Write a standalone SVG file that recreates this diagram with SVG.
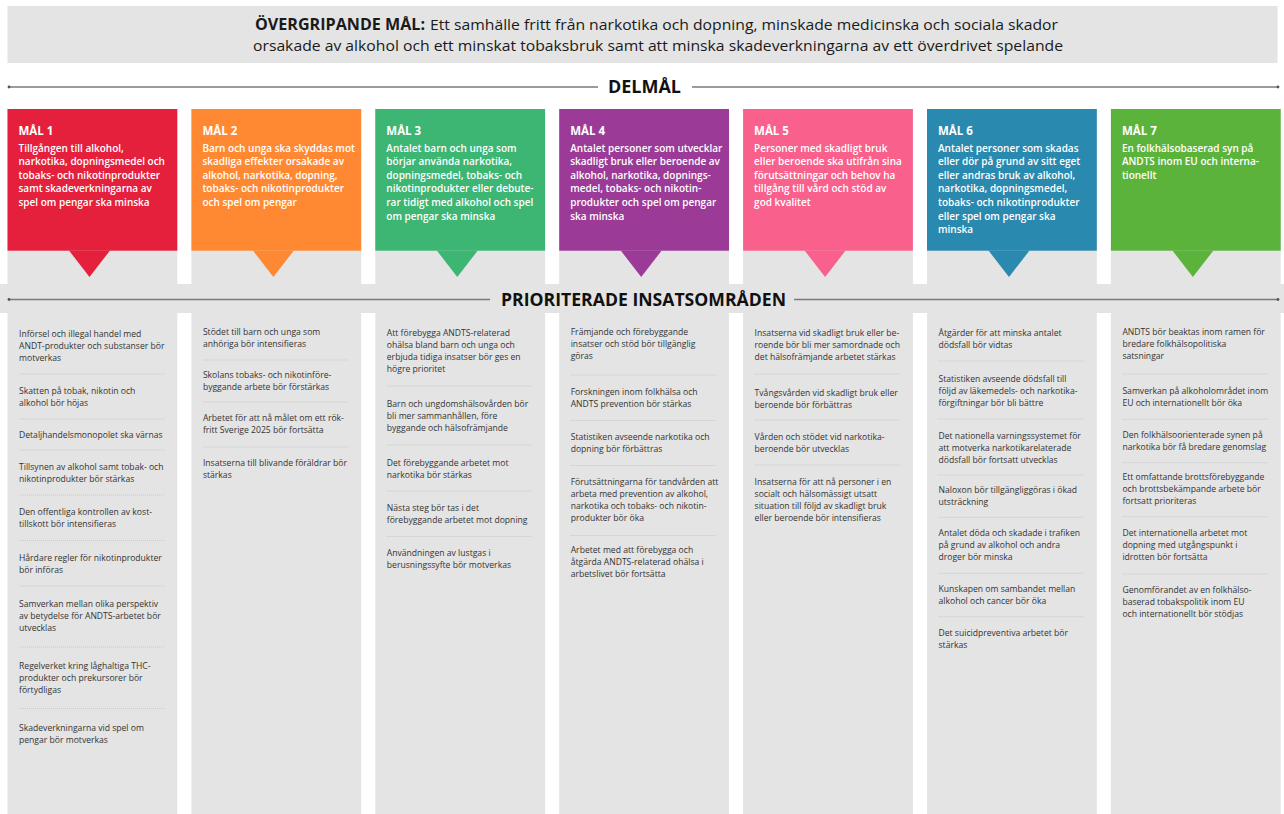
<svg xmlns="http://www.w3.org/2000/svg" width="1284" height="814" viewBox="0 0 1284 814">
  <style>
    .bg { fill: #e4e4e4; }
    .hdr { font-family: "Open Sans", "Liberation Sans", sans-serif; font-size: 15.2px; fill: #1a1a1a; }
    .hb { font-weight: 700; }
    .sec { font-family: "Open Sans", "Liberation Sans", sans-serif; font-size: 17px; font-weight: 700; fill: #111; }
    .gt { font-family: "Open Sans", "Liberation Sans", sans-serif; font-size: 11.5px; font-weight: 700; fill: #fff; }
    .g { font-family: "Open Sans", "Liberation Sans", sans-serif; font-size: 10px; font-weight: 600; fill: #fff; }
    .t { font-family: "Open Sans", "Liberation Sans", sans-serif; font-size: 8.6px; fill: #333; }
    .sep { stroke: #b4b4b4; stroke-width: 0.8; stroke-dasharray: 0.7 1.3; }
    .rule { stroke: #7a7a7a; stroke-width: 1.4; }
    .dot { fill: #555; }
  </style>

  <rect width="1284" height="814" fill="#fff"/>

  <!-- overall goal banner -->
  <g id="overall-goal">
    <rect class="bg" x="7.5" y="6" width="1270" height="57" fill="#e6e6e6"/>
    <text class="hdr" x="255" y="29.5"><tspan class="hb" textLength="170" lengthAdjust="spacingAndGlyphs">ÖVERGRIPANDE MÅL:</tspan><tspan x="430" textLength="628" lengthAdjust="spacingAndGlyphs">Ett samhälle fritt från narkotika och dopning, minskade medicinska och sociala skador</tspan><tspan x="253" dy="21" textLength="810" lengthAdjust="spacingAndGlyphs">orsakade av alkohol och ett minskat tobaksbruk samt att minska skadeverkningarna av ett överdrivet spelande</tspan></text>
  </g>

  <!-- full-width band behind the second section heading -->
  <rect class="bg" x="0" y="284" width="1284" height="29"/>

  <!-- section rules -->
  <g id="connectors">
    <line class="rule" x1="9" y1="87" x2="598" y2="87"/>
    <line class="rule" x1="692" y1="87" x2="1278" y2="87"/>
    <circle class="dot" cx="9" cy="87" r="1.4"/>
    <circle class="dot" cx="1278" cy="87" r="1.4"/>
    <line class="rule" x1="9" y1="299.5" x2="490" y2="299.5"/>
    <line class="rule" x1="794" y1="299.5" x2="1278" y2="299.5"/>
    <circle class="dot" cx="9" cy="299.5" r="1.4"/>
    <circle class="dot" cx="1278" cy="299.5" r="1.4"/>
  </g>

  <g id="heading-delmal">
    <text class="sec" x="608" y="93" textLength="73" lengthAdjust="spacingAndGlyphs">DELMÅL</text>
  </g>
  <g id="heading-prioriterade">
    <text class="sec" x="501" y="305.5" textLength="285" lengthAdjust="spacingAndGlyphs">PRIORITERADE INSATSOMRÅDEN</text>
  </g>

  <!-- goal cards -->
  <g id="goal-1">
    <rect class="bg" x="7.5" y="109" width="169.8" height="175"/>
    <rect x="7.5" y="109" width="169.8" height="141.7" fill="#e4203c"/>
    <polygon points="69,250.5 110,250.5 89.5,277" fill="#e4203c"/>
    <text class="gt" x="18.5" y="135">MÅL 1</text>
    <text class="g" x="18.5" y="151.5">Tillgången till alkohol,<tspan x="18.5" dy="13.6">narkotika, dopningsmedel och</tspan><tspan x="18.5" dy="13.6">tobaks- och nikotinprodukter</tspan><tspan x="18.5" dy="13.6">samt skadeverkningarna av</tspan><tspan x="18.5" dy="13.6">spel om pengar ska minska</tspan></text>
  </g>

  <g id="goal-2">
    <rect class="bg" x="191.4" y="109" width="169.8" height="175"/>
    <rect x="191.4" y="109" width="169.8" height="141.7" fill="#ff8933"/>
    <polygon points="252.9,250.5 293.9,250.5 273.4,277" fill="#ff8933"/>
    <text class="gt" x="202.4" y="135">MÅL 2</text>
    <text class="g" x="202.4" y="151.5">Barn och unga ska skyddas mot<tspan x="202.4" dy="13.6">skadliga effekter orsakade av</tspan><tspan x="202.4" dy="13.6">alkohol, narkotika, dopning,</tspan><tspan x="202.4" dy="13.6">tobaks- och nikotinprodukter</tspan><tspan x="202.4" dy="13.6">och spel om pengar</tspan></text>
  </g>

  <g id="goal-3">
    <rect class="bg" x="375.3" y="109" width="169.8" height="175"/>
    <rect x="375.3" y="109" width="169.8" height="141.7" fill="#3db573"/>
    <polygon points="436.8,250.5 477.8,250.5 457.3,277" fill="#3db573"/>
    <text class="gt" x="386.3" y="135">MÅL 3</text>
    <text class="g" x="386.3" y="151.5">Antalet barn och unga som<tspan x="386.3" dy="13.6">börjar använda narkotika,</tspan><tspan x="386.3" dy="13.6">dopningsmedel, tobaks- och</tspan><tspan x="386.3" dy="13.6">nikotinprodukter eller debute-</tspan><tspan x="386.3" dy="13.6">rar tidigt med alkohol och spel</tspan><tspan x="386.3" dy="13.6">om pengar ska minska</tspan></text>
  </g>

  <g id="goal-4">
    <rect class="bg" x="559.2" y="109" width="169.8" height="175"/>
    <rect x="559.2" y="109" width="169.8" height="141.7" fill="#9b3b97"/>
    <polygon points="620.7,250.5 661.7,250.5 641.2,277" fill="#9b3b97"/>
    <text class="gt" x="570.2" y="135">MÅL 4</text>
    <text class="g" x="570.2" y="151.5">Antalet personer som utvecklar<tspan x="570.2" dy="13.6">skadligt bruk eller beroende av</tspan><tspan x="570.2" dy="13.6">alkohol, narkotika, dopnings-</tspan><tspan x="570.2" dy="13.6">medel, tobaks- och nikotin-</tspan><tspan x="570.2" dy="13.6">produkter och spel om pengar</tspan><tspan x="570.2" dy="13.6">ska minska</tspan></text>
  </g>

  <g id="goal-5">
    <rect class="bg" x="743.1" y="109" width="169.8" height="175"/>
    <rect x="743.1" y="109" width="169.8" height="141.7" fill="#f9608b"/>
    <polygon points="804.6,250.5 845.6,250.5 825.1,277" fill="#f9608b"/>
    <text class="gt" x="754.1" y="135">MÅL 5</text>
    <text class="g" x="754.1" y="151.5">Personer med skadligt bruk<tspan x="754.1" dy="13.6">eller beroende ska utifrån sina</tspan><tspan x="754.1" dy="13.6">förutsättningar och behov ha</tspan><tspan x="754.1" dy="13.6">tillgång till vård och stöd av</tspan><tspan x="754.1" dy="13.6">god kvalitet</tspan></text>
  </g>

  <g id="goal-6">
    <rect class="bg" x="927" y="109" width="169.8" height="175"/>
    <rect x="927" y="109" width="169.8" height="141.7" fill="#2a89af"/>
    <polygon points="988.5,250.5 1029.5,250.5 1009,277" fill="#2a89af"/>
    <text class="gt" x="938" y="135">MÅL 6</text>
    <text class="g" x="938" y="151.5">Antalet personer som skadas<tspan x="938" dy="13.6">eller dör på grund av sitt eget</tspan><tspan x="938" dy="13.6">eller andras bruk av alkohol,</tspan><tspan x="938" dy="13.6">narkotika, dopningsmedel,</tspan><tspan x="938" dy="13.6">tobaks- och nikotinprodukter</tspan><tspan x="938" dy="13.6">eller spel om pengar ska</tspan><tspan x="938" dy="13.6">minska</tspan></text>
  </g>

  <g id="goal-7">
    <rect class="bg" x="1110.9" y="109" width="169.8" height="175"/>
    <rect x="1110.9" y="109" width="169.8" height="141.7" fill="#5cb33c"/>
    <polygon points="1172.4,250.5 1213.4,250.5 1192.9,277" fill="#5cb33c"/>
    <text class="gt" x="1121.9" y="135">MÅL 7</text>
    <text class="g" x="1121.9" y="151.5">En folkhälsobaserad syn på<tspan x="1121.9" dy="13.6">ANDTS inom EU och interna-</tspan><tspan x="1121.9" dy="13.6">tionellt</tspan></text>
  </g>

  <!-- priority areas, one column per goal -->
  <g id="areas-1">
    <rect class="bg" x="7.5" y="312.7" width="169.8" height="502"/>
    <text class="t" x="19" y="336.5">Införsel och illegal handel med<tspan x="19" dy="12">ANDT-produkter och substanser bör</tspan><tspan x="19" dy="12">motverkas</tspan></text>
    <line class="sep" x1="19" y1="374" x2="165" y2="374"/>
    <text class="t" x="19" y="393.5">Skatten på tobak, nikotin och<tspan x="19" dy="12">alkohol bör höjas</tspan></text>
    <line class="sep" x1="19" y1="419" x2="165" y2="419"/>
    <text class="t" x="19" y="437.5">Detaljhandelsmonopolet ska värnas</text>
    <line class="sep" x1="19" y1="450" x2="165" y2="450"/>
    <text class="t" x="19" y="470">Tillsynen av alkohol samt tobak- och<tspan x="19" dy="12">nikotinprodukter bör stärkas</tspan></text>
    <line class="sep" x1="19" y1="495" x2="165" y2="495"/>
    <text class="t" x="19" y="514.5">Den offentliga kontrollen av kost-<tspan x="19" dy="12">tillskott bör intensifieras</tspan></text>
    <line class="sep" x1="19" y1="540.5" x2="165" y2="540.5"/>
    <text class="t" x="19" y="560.5">Hårdare regler för nikotinprodukter<tspan x="19" dy="12">bör införas</tspan></text>
    <line class="sep" x1="19" y1="586" x2="165" y2="586"/>
    <text class="t" x="19" y="607">Samverkan mellan olika perspektiv<tspan x="19" dy="12.2">av betydelse för ANDTS-arbetet bör</tspan><tspan x="19" dy="12.2">utvecklas</tspan></text>
    <line class="sep" x1="19" y1="647" x2="165" y2="647"/>
    <text class="t" x="19" y="668.5">Regelverket kring låghaltiga THC-<tspan x="19" dy="12.3">produkter och prekursorer bör</tspan><tspan x="19" dy="12.3">förtydligas</tspan></text>
    <line class="sep" x1="19" y1="708.5" x2="165" y2="708.5"/>
    <text class="t" x="19" y="731">Skadeverkningarna vid spel om<tspan x="19" dy="12.3">pengar bör motverkas</tspan></text>
  </g>

  <g id="areas-2">
    <rect class="bg" x="191.4" y="312.7" width="169.8" height="502"/>
    <text class="t" x="202.9" y="335">Stödet till barn och unga som<tspan x="202.9" dy="12">anhöriga bör intensifieras</tspan></text>
    <line class="sep" x1="202.9" y1="360" x2="348.9" y2="360"/>
    <text class="t" x="202.9" y="378">Skolans tobaks- och nikotinföre-<tspan x="202.9" dy="12">byggande arbete bör förstärkas</tspan></text>
    <line class="sep" x1="202.9" y1="402" x2="348.9" y2="402"/>
    <text class="t" x="202.9" y="421">Arbetet för att nå målet om ett rök-<tspan x="202.9" dy="12">fritt Sverige 2025 bör fortsätta</tspan></text>
    <line class="sep" x1="202.9" y1="447" x2="348.9" y2="447"/>
    <text class="t" x="202.9" y="466">Insatserna till blivande föräldrar bör<tspan x="202.9" dy="12">stärkas</tspan></text>
  </g>

  <g id="areas-3">
    <rect class="bg" x="375.3" y="312.7" width="169.8" height="502"/>
    <text class="t" x="386.8" y="335.5">Att förebygga ANDTS-relaterad<tspan x="386.8" dy="12">ohälsa bland barn och unga och</tspan><tspan x="386.8" dy="12">erbjuda tidiga insatser bör ges en</tspan><tspan x="386.8" dy="12">högre prioritet</tspan></text>
    <line class="sep" x1="386.8" y1="386" x2="532.8" y2="386"/>
    <text class="t" x="386.8" y="407">Barn  och ungdomshälsovården bör<tspan x="386.8" dy="12">bli mer sammanhållen, före</tspan><tspan x="386.8" dy="12">byggande och hälsofrämjande</tspan></text>
    <line class="sep" x1="386.8" y1="445" x2="532.8" y2="445"/>
    <text class="t" x="386.8" y="465.5">Det förebyggande arbetet mot<tspan x="386.8" dy="12">narkotika bör stärkas</tspan></text>
    <line class="sep" x1="386.8" y1="491" x2="532.8" y2="491"/>
    <text class="t" x="386.8" y="510.5">Nästa steg bör tas i det<tspan x="386.8" dy="12">förebyggande arbetet mot dopning</tspan></text>
    <line class="sep" x1="386.8" y1="536.5" x2="532.8" y2="536.5"/>
    <text class="t" x="386.8" y="555.5">Användningen av lustgas i<tspan x="386.8" dy="12">berusningssyfte bör motverkas</tspan></text>
  </g>

  <g id="areas-4">
    <rect class="bg" x="559.2" y="312.7" width="169.8" height="502"/>
    <text class="t" x="570.7" y="335">Främjande och förebyggande<tspan x="570.7" dy="12">insatser och stöd bör tillgänglig</tspan><tspan x="570.7" dy="12">göras</tspan></text>
    <line class="sep" x1="570.7" y1="375" x2="716.7" y2="375"/>
    <text class="t" x="570.7" y="395">Forskningen inom folkhälsa och<tspan x="570.7" dy="12">ANDTS  prevention bör stärkas</tspan></text>
    <line class="sep" x1="570.7" y1="420.5" x2="716.7" y2="420.5"/>
    <text class="t" x="570.7" y="440">Statistiken avseende narkotika och<tspan x="570.7" dy="12">dopning bör förbättras</tspan></text>
    <line class="sep" x1="570.7" y1="465.5" x2="716.7" y2="465.5"/>
    <text class="t" x="570.7" y="485">Förutsättningarna för tandvården att<tspan x="570.7" dy="12">arbeta med prevention av alkohol,</tspan><tspan x="570.7" dy="12">narkotika och tobaks- och nikotin-</tspan><tspan x="570.7" dy="12">produkter bör öka</tspan></text>
    <line class="sep" x1="570.7" y1="535.5" x2="716.7" y2="535.5"/>
    <text class="t" x="570.7" y="553">Arbetet med att förebygga och<tspan x="570.7" dy="12">åtgärda ANDTS-relaterad ohälsa i</tspan><tspan x="570.7" dy="12">arbetslivet bör fortsätta</tspan></text>
  </g>

  <g id="areas-5">
    <rect class="bg" x="743.1" y="312.7" width="169.8" height="502"/>
    <text class="t" x="754.6" y="336">Insatserna vid skadligt bruk eller be-<tspan x="754.6" dy="12">roende bör bli mer samordnade och</tspan><tspan x="754.6" dy="12">det hälsofrämjande arbetet stärkas</tspan></text>
    <line class="sep" x1="754.6" y1="374" x2="900.6" y2="374"/>
    <text class="t" x="754.6" y="395.5">Tvångsvården vid skadligt bruk eller<tspan x="754.6" dy="12">beroende bör förbättras</tspan></text>
    <line class="sep" x1="754.6" y1="420" x2="900.6" y2="420"/>
    <text class="t" x="754.6" y="440">Vården och stödet vid narkotika-<tspan x="754.6" dy="12">beroende bör utvecklas</tspan></text>
    <line class="sep" x1="754.6" y1="465" x2="900.6" y2="465"/>
    <text class="t" x="754.6" y="484.5">Insatserna för att nå personer i en<tspan x="754.6" dy="12">socialt och hälsomässigt utsatt</tspan><tspan x="754.6" dy="12">situation till följd av skadligt bruk</tspan><tspan x="754.6" dy="12">eller beroende bör intensifieras</tspan></text>
  </g>

  <g id="areas-6">
    <rect class="bg" x="927" y="312.7" width="169.8" height="502"/>
    <text class="t" x="938.5" y="335.5">Åtgärder för att minska antalet<tspan x="938.5" dy="12">dödsfall bör vidtas</tspan></text>
    <line class="sep" x1="938.5" y1="361" x2="1084.5" y2="361"/>
    <text class="t" x="938.5" y="382">Statistiken avseende dödsfall till<tspan x="938.5" dy="12">följd av läkemedels- och narkotika-</tspan><tspan x="938.5" dy="12">förgiftningar bör bli bättre</tspan></text>
    <line class="sep" x1="938.5" y1="419" x2="1084.5" y2="419"/>
    <text class="t" x="938.5" y="438.5">Det nationella varningssystemet för<tspan x="938.5" dy="12">att motverka narkotikarelaterade</tspan><tspan x="938.5" dy="12">dödsfall bör fortsatt utvecklas</tspan></text>
    <line class="sep" x1="938.5" y1="475" x2="1084.5" y2="475"/>
    <text class="t" x="938.5" y="493">Naloxon bör tillgängliggöras i ökad<tspan x="938.5" dy="12">utsträckning</tspan></text>
    <line class="sep" x1="938.5" y1="517.3" x2="1084.5" y2="517.3"/>
    <text class="t" x="938.5" y="536">Antalet döda och skadade i trafiken<tspan x="938.5" dy="12">på grund av alkohol och andra</tspan><tspan x="938.5" dy="12">droger bör minska</tspan></text>
    <line class="sep" x1="938.5" y1="573.3" x2="1084.5" y2="573.3"/>
    <text class="t" x="938.5" y="592">Kunskapen om sambandet mellan<tspan x="938.5" dy="12">alkohol och cancer bör öka</tspan></text>
    <line class="sep" x1="938.5" y1="616.7" x2="1084.5" y2="616.7"/>
    <text class="t" x="938.5" y="636">Det suicidpreventiva arbetet bör<tspan x="938.5" dy="12">stärkas</tspan></text>
  </g>

  <g id="areas-7">
    <rect class="bg" x="1110.9" y="312.7" width="169.8" height="502"/>
    <text class="t" x="1122.4" y="335">ANDTS bör beaktas inom ramen för<tspan x="1122.4" dy="12">bredare folkhälsopolitiska</tspan><tspan x="1122.4" dy="12">satsningar</tspan></text>
    <line class="sep" x1="1122.4" y1="374" x2="1268.4" y2="374"/>
    <text class="t" x="1122.4" y="394">Samverkan på alkoholområdet inom<tspan x="1122.4" dy="12">EU och internationellt bör öka</tspan></text>
    <line class="sep" x1="1122.4" y1="419.3" x2="1268.4" y2="419.3"/>
    <text class="t" x="1122.4" y="438">Den folkhälsoorienterade synen på<tspan x="1122.4" dy="12">narkotika bör få bredare genomslag</tspan></text>
    <line class="sep" x1="1122.4" y1="462.7" x2="1268.4" y2="462.7"/>
    <text class="t" x="1122.4" y="480">Ett omfattande brottsförebyggande<tspan x="1122.4" dy="12">och brottsbekämpande arbete bör</tspan><tspan x="1122.4" dy="12">fortsatt prioriteras</tspan></text>
    <line class="sep" x1="1122.4" y1="516.7" x2="1268.4" y2="516.7"/>
    <text class="t" x="1122.4" y="536">Det internationella arbetet mot<tspan x="1122.4" dy="12">dopning med utgångspunkt i</tspan><tspan x="1122.4" dy="12">idrotten bör fortsätta</tspan></text>
    <line class="sep" x1="1122.4" y1="574" x2="1268.4" y2="574"/>
    <text class="t" x="1122.4" y="593">Genomförandet av en folkhälso-<tspan x="1122.4" dy="12">baserad tobakspolitik inom EU</tspan><tspan x="1122.4" dy="12">och internationellt bör stödjas</tspan></text>
  </g>
</svg>
